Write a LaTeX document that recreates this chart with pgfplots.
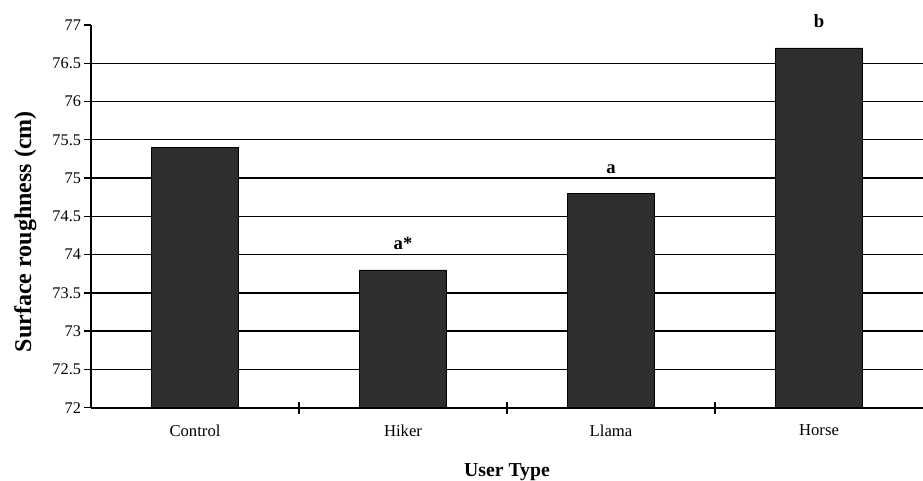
\documentclass[border=0pt]{standalone}
\usepackage{fontspec}
\setmainfont{Liberation Serif}
\usepackage{pgfplots}
\usepackage{pgfplotstable}
\pgfplotsset{compat=1.18}
\pgfplotstableread{
x val lab
0 75.4 {}
1 73.8 a*
2 74.8 a
3 76.7 b
}\data
\begin{document}
\begin{tikzpicture}
\begin{axis}[
  scale only axis,
  width=624pt, height=287pt,
  xmin=-0.5, xmax=3.5,
  ymin=72, ymax=77,
  axis x line=bottom, axis y line=left,
  axis line style={-, line width=1.5pt},
  xtick={0,1,2,3},
  xticklabels={Control,Hiker,Llama,Horse},
  major x tick style={draw=none},
  minor xtick={0.5,1.5,2.5},
  minor x tick style={draw=black, line width=1.2pt},
  xtick align=center,
  minor tick length=9pt,
  ytick={72,72.5,...,77},
  ytick align=outside,
  major tick length=5pt,
  y tick style={line width=1pt, black},
  extra y ticks={72.5,73,...,76.5},
  extra y tick labels={},
  extra y tick style={grid=major},
  major grid style={black, line width=1pt},
  /pgf/number format/assume math mode=true,
  yticklabel style={/pgf/number format/fixed, /pgf/number format/precision=1, font=\fontsize{12.2}{14}\selectfont, xshift=1pt},
  xticklabel style={font=\fontsize{12.5}{14}\selectfont, yshift=-7pt},
  xlabel={User Type},
  xlabel style={font=\fontsize{14.8}{17}\selectfont\bfseries, at={(axis description cs:0.5,-0.168)}, anchor=center},
  ylabel={Surface roughness (cm)},
  ylabel style={font=\fontsize{18}{20}\selectfont\bfseries, at={(axis description cs:-0.079,0.46)}, anchor=center},
  clip=false,
]
\addplot[ybar, bar width=0.42, fill=black!82, draw=black, line width=0.6pt,
  nodes near coords, point meta=explicit symbolic,
  every node near coord/.append style={font=\fontsize{14}{16}\selectfont\bfseries, anchor=base, yshift=15pt}]
  table[x=x, y=val, meta=lab] {\data};
\end{axis}
\pgfresetboundingbox
\path ([shift={(-68.25pt,-54.75pt)}]current axis.south west) rectangle ([shift={(0pt,18.75pt)}]current axis.north east);
\end{tikzpicture}
\end{document}
